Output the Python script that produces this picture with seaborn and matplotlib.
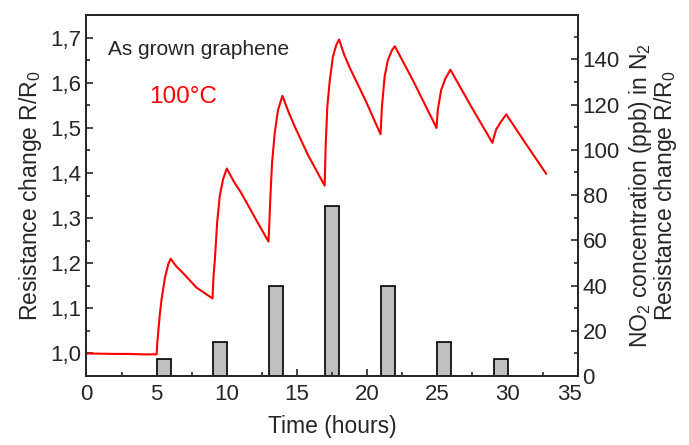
import matplotlib
matplotlib.use("Agg")
import matplotlib.pyplot as plt
from matplotlib.ticker import MultipleLocator, FuncFormatter
import matplotlib.transforms as mtransforms
import seaborn as sns
import pandas as pd

# ── data ─────────────────────────────────────────────────────
time_h = [0, 1, 2, 3, 4, 5.0, 5.05, 5.11, 5.22, 5.35, 5.59, 5.83, 6.0, 6.4,
          6.89, 7.84, 8.98, 9.05, 9.15, 9.31, 9.5, 9.74, 10.0, 10.5, 11.0,
          11.4, 12.2, 12.97, 13.03, 13.1, 13.22, 13.41, 13.65, 13.96, 14.4,
          14.84, 15.78, 16.97, 17.04, 17.16, 17.33, 17.56, 17.8, 18.0, 18.35,
          18.75, 19.94, 20.95, 21.05, 21.24, 21.47, 21.78, 21.97, 23.25,
          24.94, 25.03, 25.27, 25.58, 25.93, 27.4, 28.92, 29.18, 29.54,
          29.91, 31.3, 32.76]
ratio = [1.0, 0.9995, 0.999, 0.999, 0.998, 0.998, 1.025, 1.046, 1.085,
         1.12, 1.168, 1.198, 1.21, 1.193, 1.178, 1.146, 1.122, 1.17, 1.209,
         1.29, 1.35, 1.387, 1.41, 1.381, 1.357, 1.335, 1.29, 1.248, 1.29,
         1.345, 1.422, 1.488, 1.54, 1.571, 1.535, 1.503, 1.44, 1.372, 1.459,
         1.547, 1.604, 1.658, 1.684, 1.696, 1.663, 1.634, 1.557, 1.486,
         1.547, 1.613, 1.65, 1.673, 1.681, 1.606, 1.5, 1.54, 1.584, 1.61,
         1.629, 1.548, 1.467, 1.496, 1.514, 1.53, 1.465, 1.398]

pulse_start = [5, 9, 13, 17, 21, 25, 29]
no2_ppb = [7.5, 15, 40, 75, 40, 15, 7.5]

df = pd.DataFrame({"time": time_h, "ratio": ratio})

# ── style ────────────────────────────────────────────────────
sns.set_style("ticks")
plt.rcParams["font.family"] = ["Liberation Sans", "DejaVu Sans"]
plt.rcParams["mathtext.fontset"] = "custom"
plt.rcParams["mathtext.rm"] = "Liberation Sans"
plt.rcParams["mathtext.it"] = "Liberation Sans"
plt.rcParams["axes.linewidth"] = 1.3

fig, ax = plt.subplots(figsize=(6.89, 4.45), dpi=100)
fig.subplots_adjust(left=0.1255, right=0.8385, bottom=0.155, top=0.966)

ax2 = ax.twinx()
ax2.bar(pulse_start, no2_ppb, width=1, align="edge", color="#c0c0c0",
        edgecolor="black", linewidth=1.2)
ax2.set_ylim(0, 159.5)
ax2.yaxis.set_major_locator(MultipleLocator(20))
ax2.yaxis.set_minor_locator(MultipleLocator(10))
ax2.set_ylabel("NO$_2$ concentration (ppb) in N$_2$\nResistance change R/R$_0$",
               fontsize=16.5, labelpad=5, linespacing=0.9)

# red curve on top of the bars
ax.set_zorder(ax2.get_zorder() + 1)
ax.patch.set_visible(False)
sns.lineplot(data=df, x="time", y="ratio", ax=ax, color="red", lw=1.5,
             sort=False, estimator=None)

ax.set_xlim(0, 35)
ax.set_ylim(0.95, 1.75)
ax.xaxis.set_major_locator(MultipleLocator(5))
ax.xaxis.set_minor_locator(MultipleLocator(2.5))
ax.yaxis.set_major_locator(MultipleLocator(0.1))
ax.yaxis.set_minor_locator(MultipleLocator(0.05))
ax.yaxis.set_major_formatter(FuncFormatter(lambda v, p: f"{v:.1f}".replace(".", ",")))
ax.set_xlabel("Time (hours)", fontsize=16.5, labelpad=7)
ax.set_ylabel("Resistance change R/R$_0$", fontsize=16.5, labelpad=5)

for a in (ax, ax2):
    a.tick_params(which="both", direction="in", labelsize=16, width=1.2)
    a.tick_params(which="major", length=5)
    a.tick_params(which="minor", length=3)
ax.tick_params(axis="x", pad=6)

# nudge the last x label left so it clears the right-axis "0"
fig.canvas.draw()
last = [t for t in ax.get_xticklabels() if t.get_text() == "35"]
for t in last:
    t.set_transform(t.get_transform() + mtransforms.ScaledTranslation(-8 / 100, 0, fig.dpi_scale_trans))

ax.text(1.5, 1.673, "As grown graphene", fontsize=15, va="center")
ax.text(6.9, 1.569, "100°C", fontsize=17.5, color="red", ha="center", va="center")

plt.savefig("out.png", dpi=100)
plt.close()
